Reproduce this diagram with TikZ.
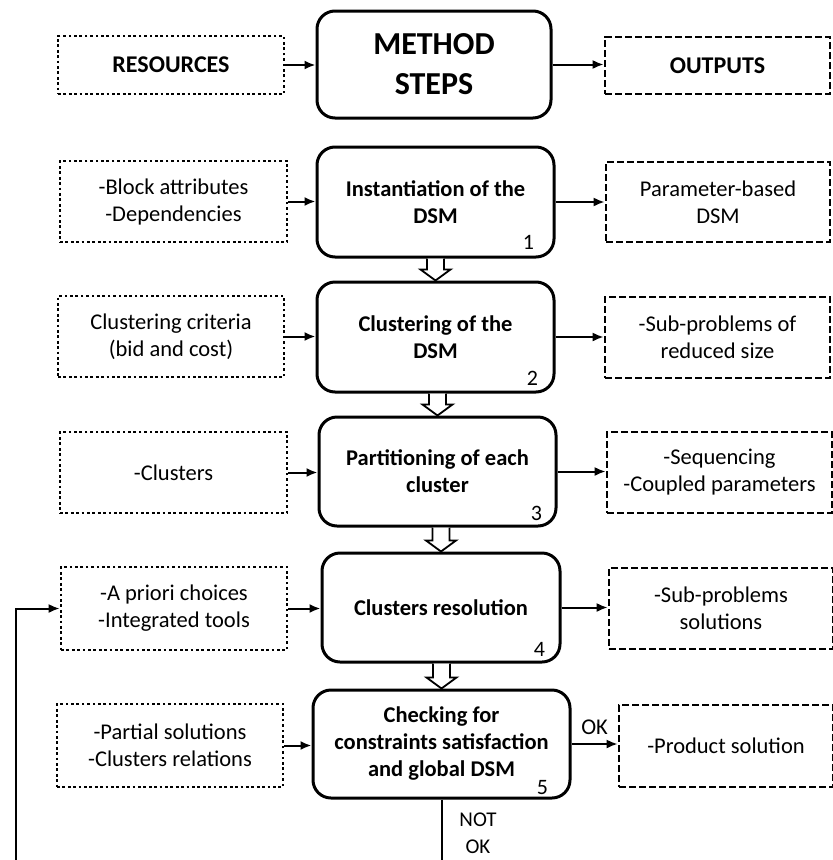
\documentclass[tikz,border=0pt]{standalone}
\usepackage{fontspec}
\setmainfont{Carlito}
\usetikzlibrary{arrows.meta,calc}
\begin{document}
\begin{tikzpicture}[x=1pt,y=-1pt,
  every node/.style={font=\fontsize{22.5}{27}\selectfont, align=center, inner sep=0pt},
  stepbox/.style={draw, line width=3pt, rounded corners=18pt, font=\fontsize{22.5}{27}\selectfont\bfseries},
  resbox/.style={draw, line width=2.7pt, dash pattern=on 2.7pt off 2.7pt},
  outbox/.style={draw, line width=2.7pt, dash pattern=on 7.3pt off 2.7pt},
  conn/.style={line width=2pt, -{Latex[length=11pt,width=9pt]}},
  hollow/.style={draw, line width=1.8pt, line join=miter, fill=white},
  num/.style={anchor=center, font=\fontsize{22}{24}\selectfont}
]
\useasboundingbox (0,0) rectangle (833,860);
\clip (0,0) rectangle (833,860);
\fill[white] (0,0) rectangle (833,860);

% header row
\node[stepbox, minimum width=234, minimum height=107, font=\fontsize{32}{40}\selectfont\bfseries] (ms) at (434,64.5) {METHOD\\STEPS};
\node[resbox, minimum width=226, minimum height=58, font=\fontsize{24}{28}\selectfont\bfseries] (res) at (171,65) {RESOURCES};
\node[outbox, minimum width=225, minimum height=57, font=\fontsize{24}{28}\selectfont\bfseries] (out) at (717.5,65.5) {OUTPUTS};

% steps
\node[stepbox, minimum width=237, minimum height=110] (s1) at (435.5,202) {Instantiation of the\\DSM};
\node[stepbox, minimum width=237, minimum height=110] (s2) at (435.5,337) {Clustering of the\\DSM};
\node[stepbox, minimum width=237, minimum height=109] (s3) at (437.5,471.5) {Partitioning of each\\cluster};
\node[stepbox, minimum width=238, minimum height=109] (s4) at (441,607.5) {Clusters resolution};
\node[stepbox, minimum width=257, minimum height=108] (s5) at (441.5,744) {Checking for\\constraints satisfaction\\and global DSM};

% numbers
\node[num] (n1) at ($(s1.south east)+(-27,-16)$) {1};
\node[num] (n2) at ($(s2.south east)+(-23,-15)$) {2};
\node[num] (n3) at ($(s3.south east)+(-21,-14)$) {3};
\node[num] (n4) at ($(s4.south east)+(-22,-14)$) {4};
\node[num] (n5) at ($(s5.south east)+(-29,-12)$) {5};

% resources
\node[resbox, minimum width=227, minimum height=81] (l1) at (173.5,201.5) {-Block attributes\\-Dependencies};
\node[resbox, minimum width=226, minimum height=81] (l2) at (171,336.5) {Clustering criteria\\(bid and cost)};
\node[resbox, minimum width=227, minimum height=81] (l3) at (173.5,472.5) {-Clusters};
\node[resbox, minimum width=226, minimum height=83] (l4) at (174,608.5) {-A priori choices\\-Integrated tools};
\node[resbox, minimum width=226, minimum height=83] (l5) at (170,745.5) {-Partial solutions\\-Clusters relations};

% outputs
\node[outbox, minimum width=224, minimum height=80] (r1) at (718,202) {Parameter-based\\DSM};
\node[outbox, minimum width=225, minimum height=81] (r2) at (717.5,337.5) {-Sub-problems of\\reduced size};
\node[outbox, minimum width=225, minimum height=81] (r3) at (719.5,472.5) {-Sequencing\\-Coupled parameters};
\node[outbox, minimum width=224, minimum height=81] (r4) at (721,608.5) {-Sub-problems\\solutions};
\node[outbox, minimum width=214, minimum height=82] (r5) at (726,746) {-Product solution};

% horizontal connectors
\draw[conn] (res.east) -- (res.east -| ms.west);
\draw[conn] (ms.east) -- (ms.east -| out.west);
\foreach \i in {1,...,5}{
  \draw[conn] (l\i.east) -- (l\i.east -| s\i.west);
}
\foreach \i in {1,...,4}{
  \draw[conn] (s\i.east) -- (s\i.east -| r\i.west);
}
\draw[conn] (s5.east) -- (s5.east -| r5.west) node[midway, above=8pt] (ok) {OK};

% hollow arrows between steps
\foreach \a/\b in {s1/s2,s2/s3,s3/s4,s4/s5}{
  \path let \p1=(\a.south), \p2=(\b.north) in
    [hollow] (\x2-8.5pt,\y1) -- (\x2-8.5pt,\y2+11pt) -- (\x2-15pt,\y2+11pt)
      -- (\x2,\y2) -- (\x2+15pt,\y2+11pt) -- (\x2+8.5pt,\y2+11pt) -- (\x2+8.5pt,\y1);
}

% feedback loop
\coordinate (fb1) at ($(s5.south)+(0,120)$);
\coordinate (fb2) at (15.7,880);
\draw[conn] (s5.south) -- (fb1) -- (fb1 -| fb2) -- (fb2 |- l4.west) -- (l4.west);
\node[font=\fontsize{21}{27}\selectfont] (nok) at (478,833.5) {NOT\\OK};
\end{tikzpicture}
\end{document}
